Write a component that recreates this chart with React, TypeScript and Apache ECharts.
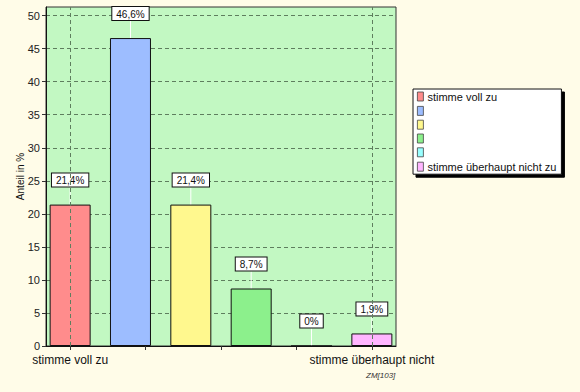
import React, { useEffect, useRef } from "react";
import * as echarts from "echarts";

const legendLabels = ["stimme voll zu", "", "", "", "", "stimme überhaupt nicht zu"];
const values = [21.4, 46.6, 21.4, 8.7, 0, 1.9];
const barColors = ["#ff8c8c", "#9dbdff", "#fff88e", "#8cf08c", "#99ffff", "#ffb6ff"];
const axisLabels = ["stimme voll zu", "stimme überhaupt nicht"];
const xTicks = [1, 2.25, 3.5, 4.75, 6];
const yTicks = [0, 5, 10, 15, 20, 25, 30, 35, 40, 45, 50];

const FONT = "'Liberation Sans', Arial, sans-serif";

export default function App() {
  const ref = useRef<HTMLDivElement>(null);
  useEffect(() => {
    document.body.style.margin = "0";
    const chart = echarts.init(ref.current!, null, { renderer: "svg" });
    const names = legendLabels.map((l, i) => (l ? l : " ".repeat(i)));
    const series: any[] = values.map((v, i) => ({
      type: "bar",
      name: names[i],
      stack: "all",
      barWidth: 41,
      data: [[i + 1, v]],
      itemStyle: { color: barColors[i], borderColor: "#111", borderWidth: 1 },
      label: {
        show: true,
        position: "top",
        distance: 1,
        formatter: (p: any) => String(p.value[1]).replace(".", ",") + "%",
        backgroundColor: "#fff",
        borderColor: "#111",
        borderWidth: 1,
        padding: [2, 4, 1, 4],
        fontSize: 10,
        color: "#111",
        fontFamily: FONT,
      },
      labelLayout: { dy: -17 },
      labelLine: { show: true, lineStyle: { color: "#fff", width: 1 } },
      ...(i === 0
        ? {
            markLine: {
              silent: true,
              symbol: "none",
              label: { show: false },
              lineStyle: { color: "#5e7e5e", type: [4, 3], width: 1 },
              data: [{ xAxis: xTicks[0] }, { xAxis: xTicks[xTicks.length - 1] }],
            },
          }
        : {}),
    }));
    chart.setOption({
      animation: false,
      backgroundColor: "#fffce8",
      textStyle: { fontFamily: FONT },
      grid: {
        left: 46,
        top: 7,
        right: 184,
        bottom: 46,
        show: true,
        backgroundColor: "#c2f8c2",
        borderColor: "#333",
        borderWidth: 1,
      },
      xAxis: {
        type: "value",
        min: 0.6,
        max: 6.4,
        axisLine: { show: true, lineStyle: { color: "#111" } },
        axisTick: { show: true, customValues: xTicks, length: 4, lineStyle: { color: "#333" } },
        axisLabel: {
          customValues: [xTicks[0], xTicks[xTicks.length - 1]],
          formatter: (v: number) => (v === xTicks[0] ? axisLabels[0] : v === xTicks[xTicks.length - 1] ? axisLabels[1] : ""),
          fontSize: 12,
          color: "#111",
          margin: 8,
          fontFamily: FONT,
        },
        splitLine: { show: false },
      },
      yAxis: {
        type: "value",
        min: 0,
        max: 51.3,
        name: "Anteil in %",
        nameLocation: "middle",
        nameGap: 21,
        nameMoveOverlap: false,
        nameTextStyle: { fontSize: 10, color: "#111", fontFamily: FONT },
        axisLine: { show: true, lineStyle: { color: "#111" } },
        axisTick: { show: true, customValues: yTicks, length: 4, lineStyle: { color: "#333" } },
        axisLabel: { customValues: yTicks, fontSize: 11, color: "#222", margin: 6, fontFamily: FONT },
        splitLine: { show: true, lineStyle: { color: "#5e7e5e", type: [4, 3], width: 1 } },
      },
      legend: {
        orient: "vertical",
        left: 413,
        top: 89,
        data: names,
        itemWidth: 6,
        itemHeight: 9,
        itemGap: 4,
        padding: [2, 5, 2, 4],
        backgroundColor: "#fff",
        borderColor: "#111",
        borderWidth: 1,
        shadowColor: "#000",
        shadowOffsetX: 3,
        shadowOffsetY: 3,
        shadowBlur: 0,
        icon: "rect",
        selectedMode: false,
        itemStyle: { borderColor: "#444", borderWidth: 0.8 },
        formatter: (n: string) => n.trim(),
        textStyle: { fontSize: 11, color: "#111", fontFamily: FONT, padding: [0, 0, 0, -1], lineHeight: 9 },
      },
      graphic: [
        {
          type: "text",
          left: 366,
          top: 371,
          style: { text: "ZM[103]", fontSize: 8, fontStyle: "italic", fill: "#333", fontFamily: FONT },
        },
      ],
      series,
    });
    return () => chart.dispose();
  }, []);
  return <div ref={ref} style={{ width: 580, height: 392 }} />;
}
